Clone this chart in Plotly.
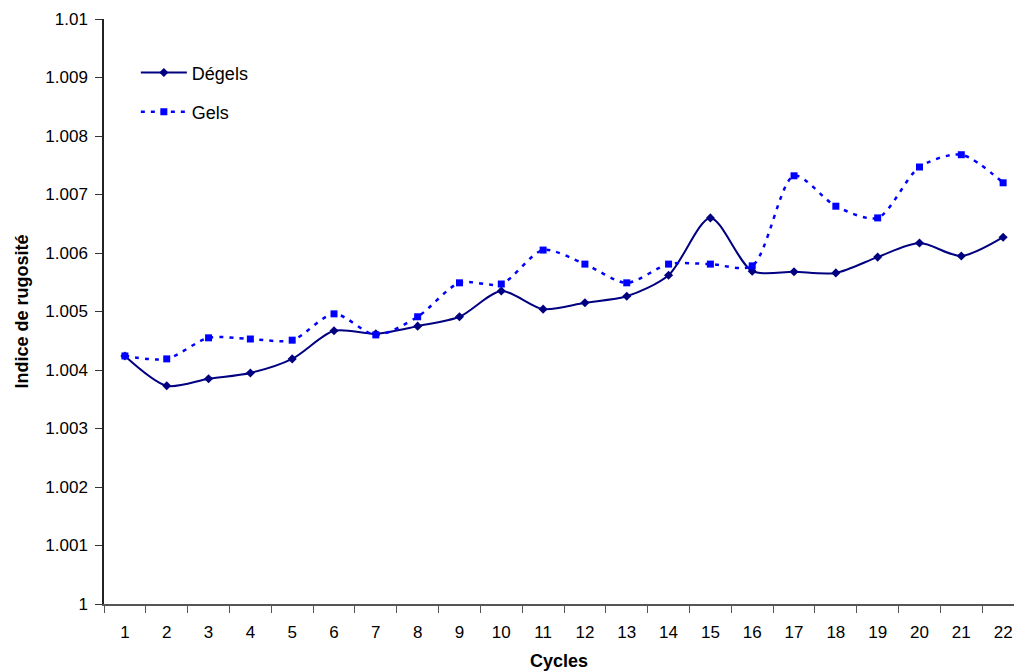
import plotly.graph_objects as go

# Indice de rugosité par cycle
cycles = [str(i) for i in range(1, 23)]

degels = [1.00424, 1.00373, 1.00385, 1.00395, 1.00419, 1.00467, 1.00462, 1.00475,
          1.00491, 1.00535, 1.00504, 1.00515, 1.00526, 1.00562, 1.00660, 1.00569,
          1.00568, 1.00566, 1.00593, 1.00617, 1.00595, 1.00627]

gels = [1.00424, 1.00419, 1.00455, 1.00453, 1.00451, 1.00496, 1.00460, 1.00491,
        1.00549, 1.00547, 1.00605, 1.00581, 1.00549, 1.00581, 1.00581, 1.00578,
        1.00732, 1.00680, 1.00660, 1.00747, 1.00768, 1.00720]

y_ticks = [1.0, 1.001, 1.002, 1.003, 1.004, 1.005, 1.006, 1.007, 1.008, 1.009, 1.01]
y_labels = ["1", "1.001", "1.002", "1.003", "1.004", "1.005", "1.006", "1.007",
            "1.008", "1.009", "1.01"]

FONT = "Liberation Sans, Arial, sans-serif"

fig = go.Figure()

fig.add_trace(go.Scatter(
    x=cycles, y=degels, name="Dégels", mode="lines+markers",
    line=dict(color="#000080", width=2, shape="spline", smoothing=0.8),
    marker=dict(symbol="diamond", size=7, color="#000080"),
    legend="legend", showlegend=True,
))

fig.add_trace(go.Scatter(
    x=cycles, y=gels, name="Gels", mode="lines+markers",
    line=dict(color="#0000FF", width=2.5, dash="4px,6px", shape="spline", smoothing=0.8),
    marker=dict(symbol="square", size=7, color="#0000FF"),
    legend="legend2", showlegend=True,
))

legend_style = dict(
    bgcolor="rgba(0,0,0,0)", borderwidth=0, itemwidth=46,
    font=dict(family=FONT, size=18, color="black"),
    xref="paper", yref="paper", xanchor="left", yanchor="middle",
)

# the page body adds an 8px margin and the right 8px get hidden,
# so the figure is shrunk to stay in the visible area
fig.update_layout(
    width=1006, height=663,
    showlegend=True,
    paper_bgcolor="white", plot_bgcolor="white",
    margin=dict(l=96, r=0, t=11, b=67),
    font=dict(family=FONT, size=17, color="black"),
    legend=dict(x=0.035, y=0.908, **legend_style),
    legend2=dict(x=0.035, y=0.841, **legend_style),
    xaxis=dict(
        type="category", range=[-0.5, 21.26],
        tickson="boundaries", ticks="outside", ticklen=7, tickcolor="#555",
        showline=True, linecolor="#555", linewidth=1.5, showgrid=False,
        tickfont=dict(size=17), ticklabelstandoff=12,
        title=dict(text="<b>Cycles</b>", font=dict(size=18), standoff=14),
    ),
    yaxis=dict(
        range=[1.0, 1.01], tickvals=y_ticks, ticktext=y_labels,
        ticks="outside", ticklen=7, tickcolor="#333",
        showline=True, linecolor="#222", linewidth=1.5, showgrid=False,
        zeroline=False, tickfont=dict(size=17), ticklabelstandoff=4,
        title=dict(text="<b>Indice de rugosité</b>", font=dict(size=18), standoff=12),
    ),
)

fig.write_html("out.html")
